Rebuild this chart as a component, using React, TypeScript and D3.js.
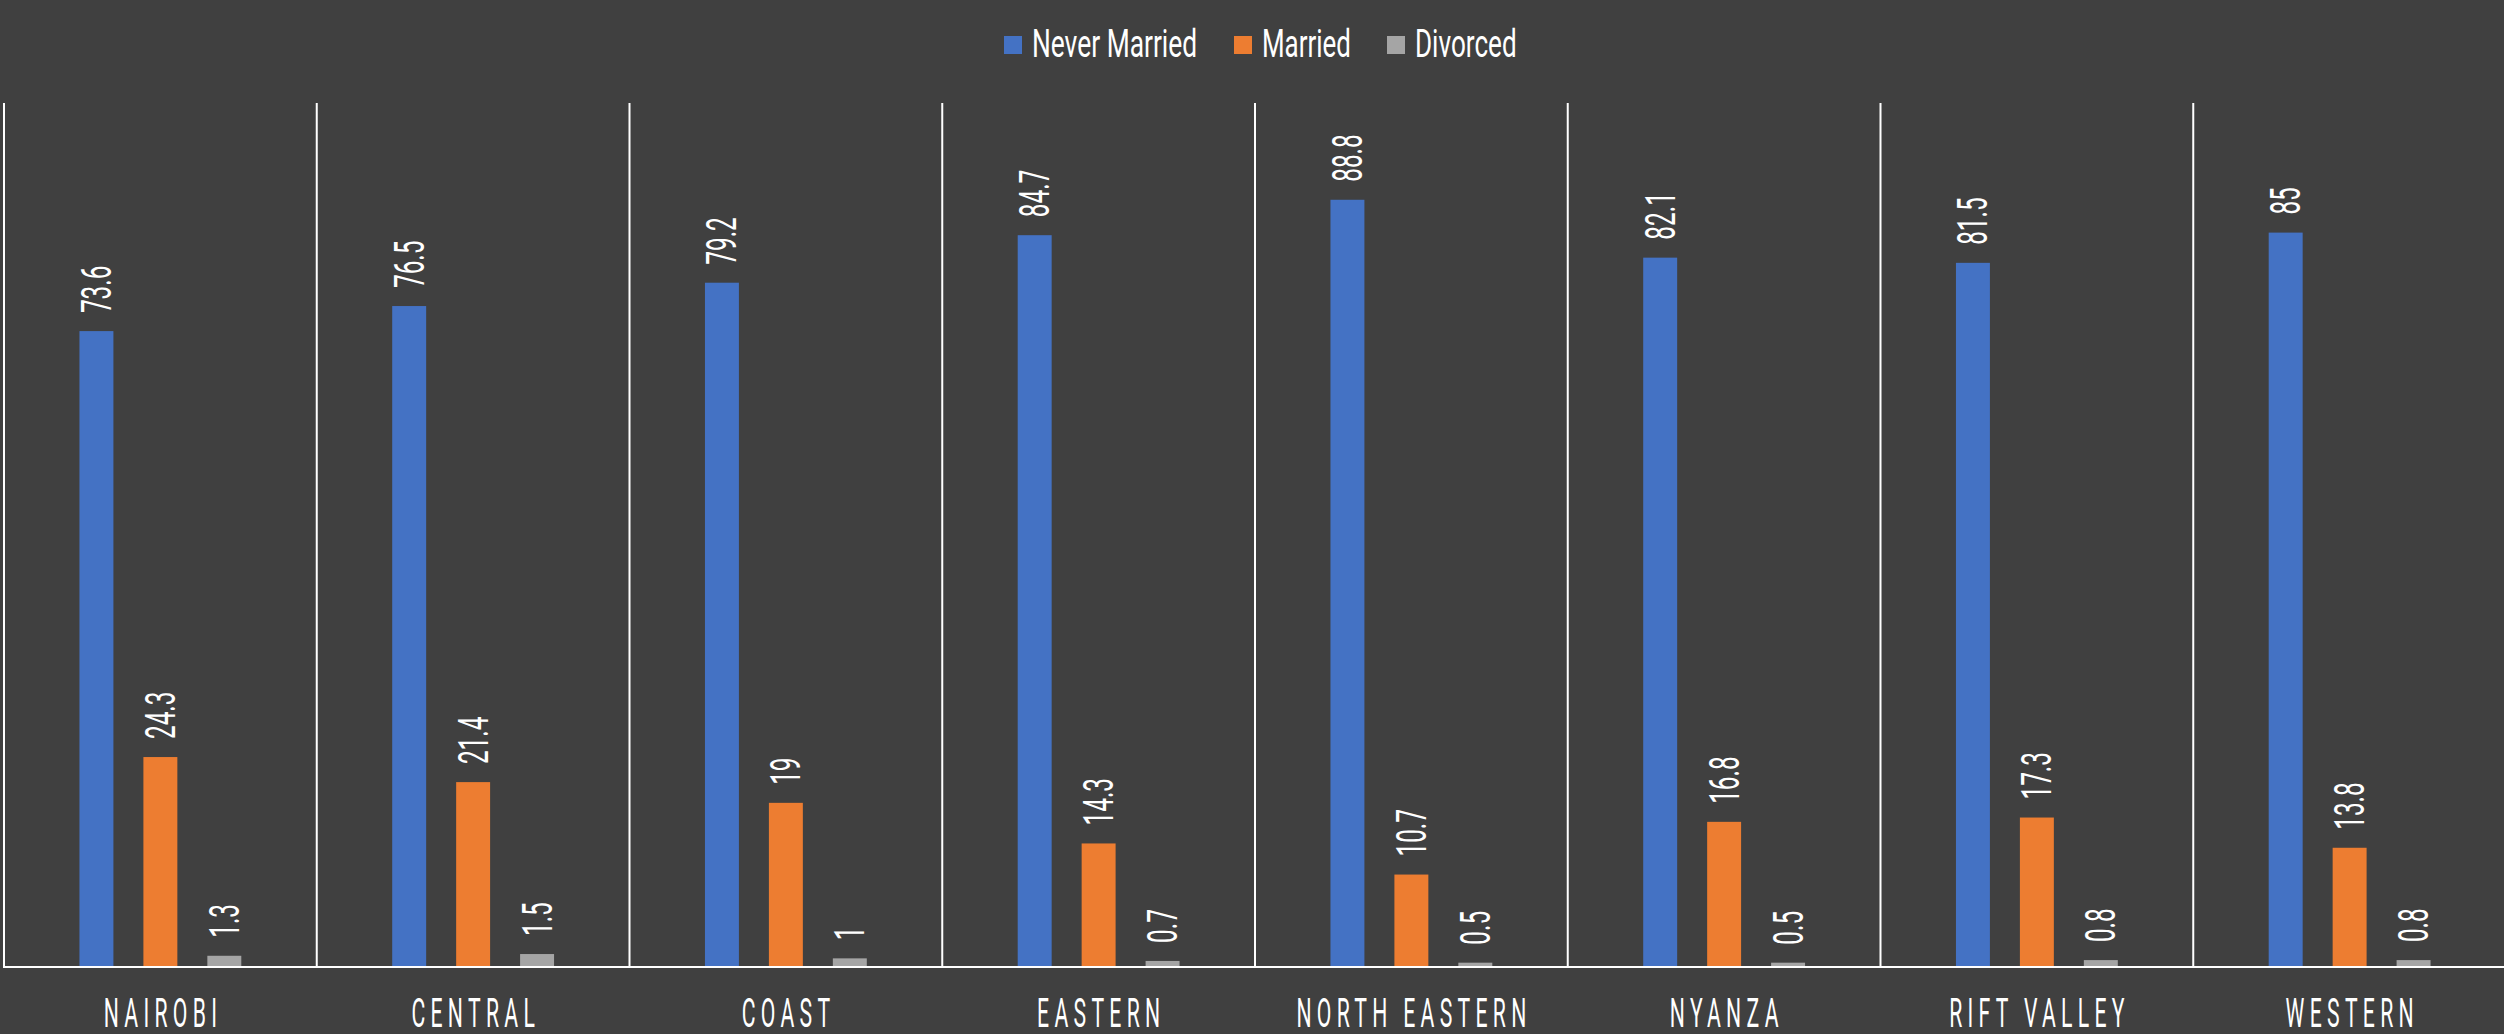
import React from "react";
import * as d3 from "d3";

const categories = ["NAIROBI", "CENTRAL", "COAST", "EASTERN", "NORTH EASTERN", "NYANZA", "RIFT VALLEY", "WESTERN"];
const seriesNames = ["Never Married", "Married", "Divorced"];
const neverMarried = [73.6, 76.5, 79.2, 84.7, 88.8, 82.1, 81.5, 85];
const married = [24.3, 21.4, 19, 14.3, 10.7, 16.8, 17.3, 13.8];
const divorced = [1.3, 1.5, 1, 0.7, 0.5, 0.5, 0.8, 0.8];
const seriesValues = [neverMarried, married, divorced];
const colors = ["#4472C4", "#ED7D31", "#A5A5A5"];

const W = 2504;
const H = 1034;
const BG = "#404040";
const FONT = "Roboto, 'Noto Sans', sans-serif";

export default function App() {
  const x0 = d3.scaleBand<string>().domain(categories).range([4, 2506]).paddingInner(0).paddingOuter(0);
  const bw = x0.bandwidth();
  const x1 = d3.scaleBand<string>().domain(seriesNames).range([0, bw]).paddingInner(0.469).paddingOuter(1.18);
  const y = d3.scaleLinear().domain([0, 100]).range([967, 103]);

  const catSx = 0.53;
  const catLs = 10;
  const numSx = 0.58;

  // legend layout
  const legendSq = [1004, 1234, 1387];
  const charW = 12.7;

  return (
    <svg width={W} height={H} style={{ position: "fixed", left: 0, top: 0, background: BG }}>
      <rect x={0} y={0} width={W} height={H} fill={BG} />
      {/* legend */}
      {seriesNames.map((s, i) => (
        <g key={s}>
          <rect x={legendSq[i]} y={36} width={18} height={18} fill={colors[i]} />
          <text
            x={legendSq[i] + 28}
            y={57}
            fontFamily={FONT}
            fontSize={38}
            fill="#ffffff"
            textLength={s.length * charW}
            lengthAdjust="spacingAndGlyphs"
          >
            {s}
          </text>
        </g>
      ))}
      {/* separators */}
      {categories.map((c) => (
        <line key={c} x1={x0(c)!} x2={x0(c)!} y1={103} y2={967} stroke="#ffffff" strokeWidth={2} />
      ))}
      {/* baseline */}
      <line x1={3} x2={W} y1={967} y2={967} stroke="#ffffff" strokeWidth={2} />
      {/* bars */}
      {categories.map((c, ci) => (
        <g key={c} transform={`translate(${x0(c)},0)`}>
          {seriesNames.map((s, si) => {
            const v = seriesValues[si][ci];
            const bx = x1(s)!;
            const top = y(v);
            const cx = bx + x1.bandwidth() / 2;
            return (
              <g key={s}>
                <rect x={bx} y={top} width={x1.bandwidth()} height={y(0) - top - 1} fill={colors[si]} />
                <text
                  transform={`translate(${cx + 14.5},${top - 18}) rotate(-90) scale(${numSx},1)`}
                  fontFamily={FONT}
                  fontSize={42}
                  fill="#ffffff"
                  textAnchor="start"
                >
                  {String(v)}
                </text>
              </g>
            );
          })}
          <text
            transform={`translate(${bw / 2 + (catLs * catSx) / 2},1027) scale(${catSx},1)`}
            fontFamily={FONT}
            fontSize={40}
            letterSpacing={catLs}
            fill="#ffffff"
            textAnchor="middle"
          >
            {c}
          </text>
        </g>
      ))}
    </svg>
  );
}
